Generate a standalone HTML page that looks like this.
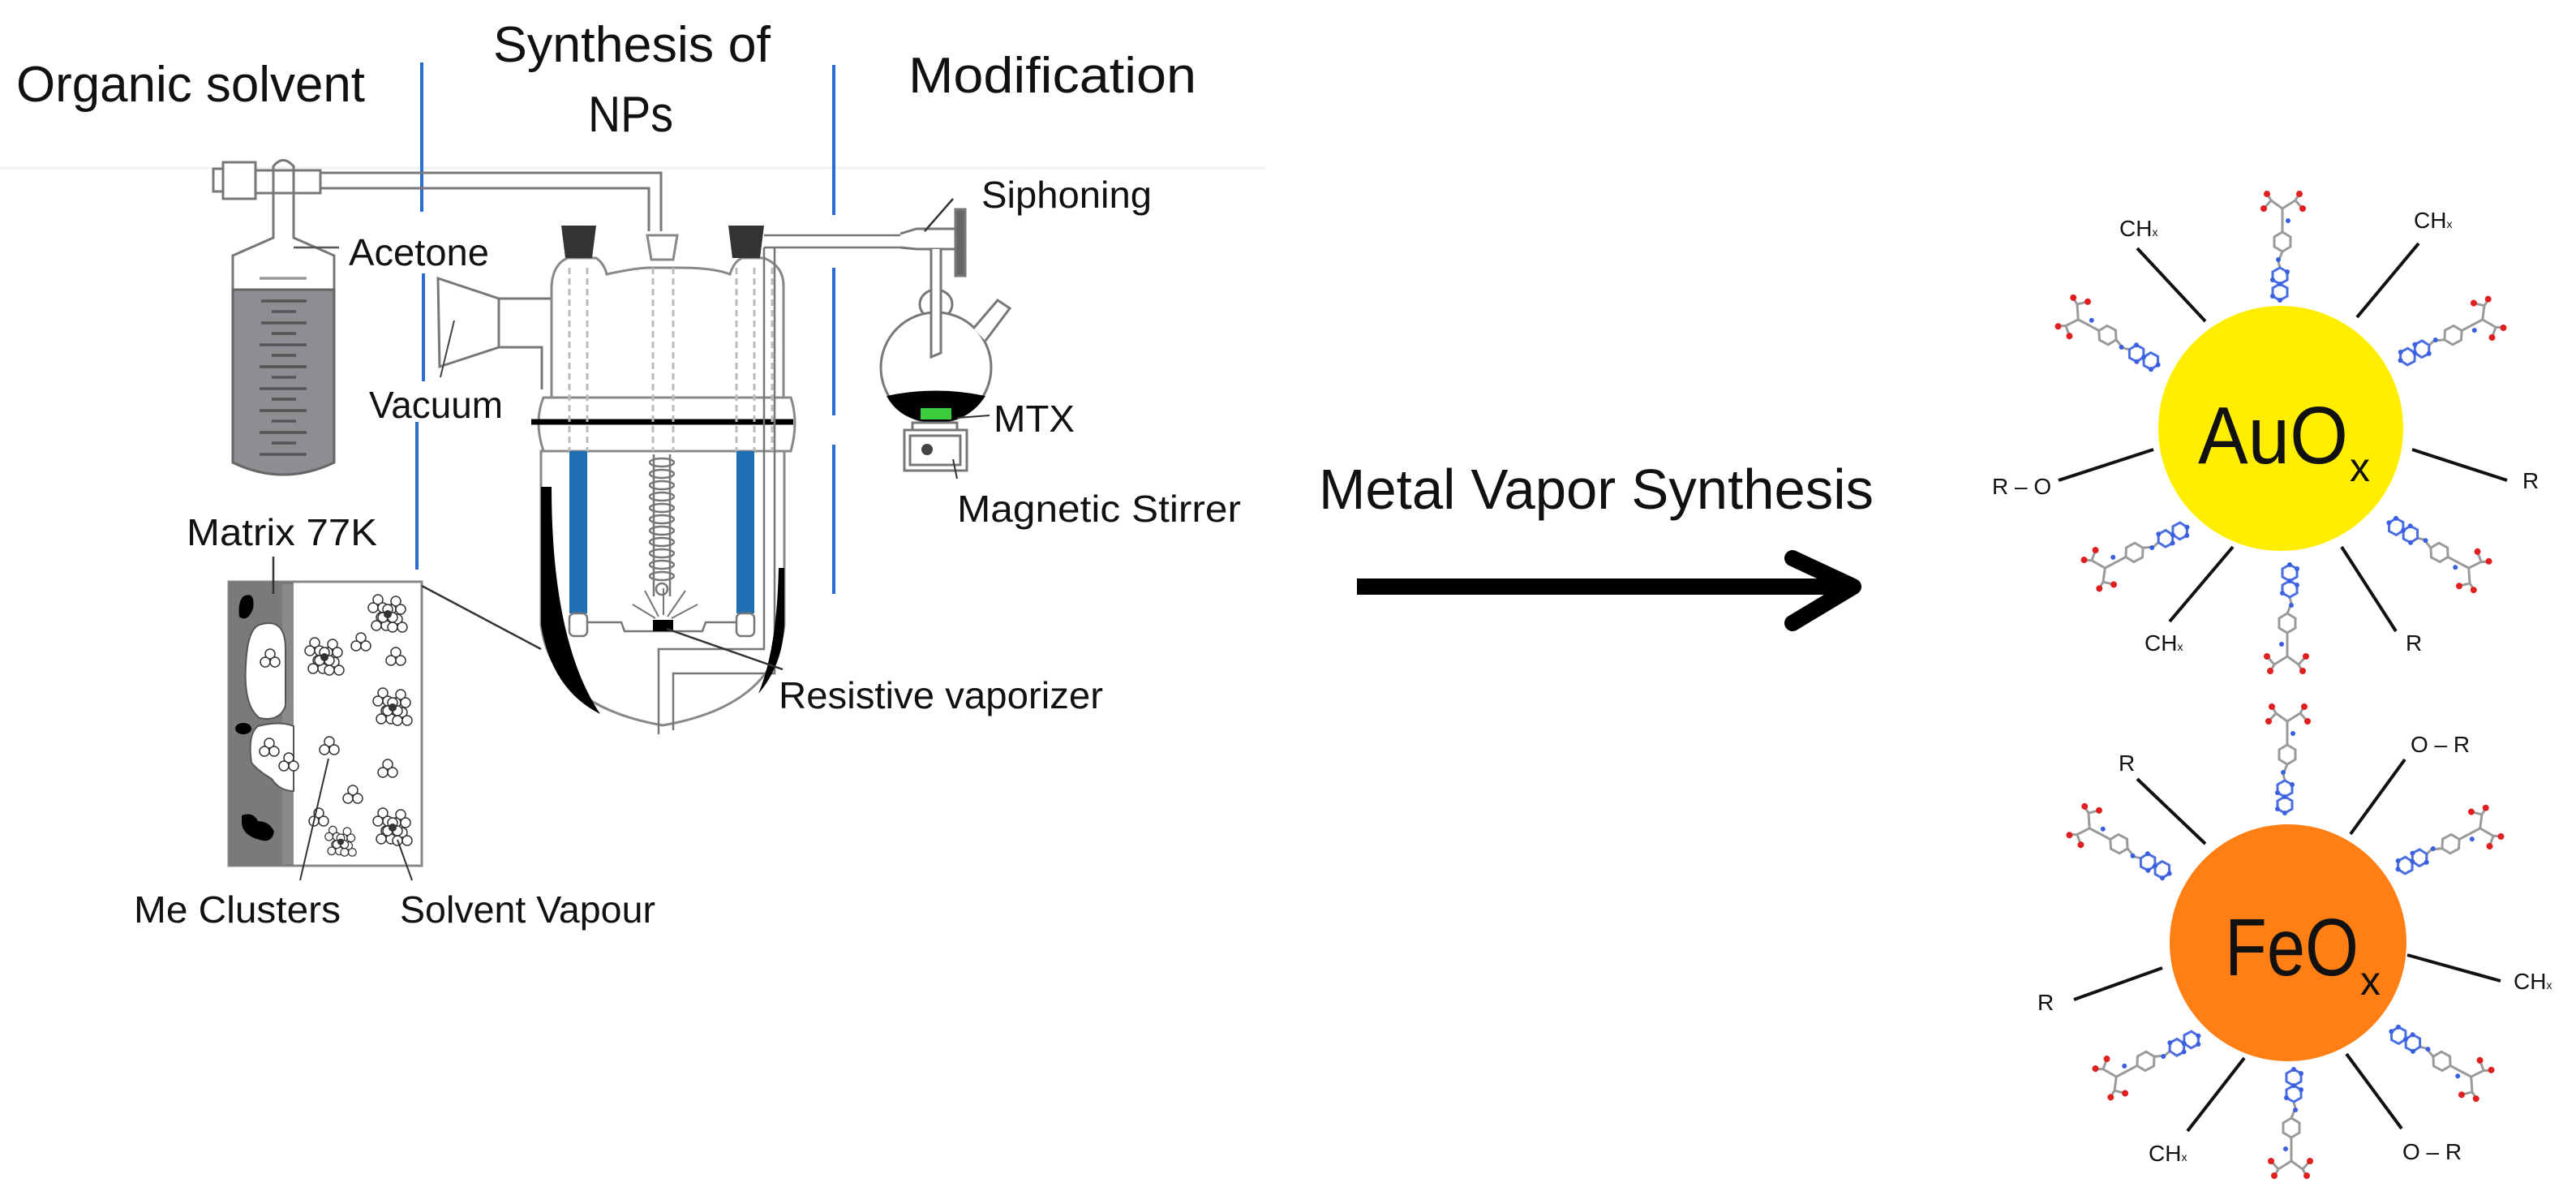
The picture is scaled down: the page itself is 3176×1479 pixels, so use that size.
<!DOCTYPE html>
<html><head><meta charset="utf-8"><style>
html,body{margin:0;padding:0;background:#fff;}
svg{display:block;}
text{font-family:"Liberation Sans",sans-serif;fill:#111;}
</style></head><body>
<svg width="3176" height="1479" viewBox="0 0 3176 1479" xmlns="http://www.w3.org/2000/svg">
<defs>
<g id="mol" stroke-linecap="round">
  <g stroke="#9a9a9a" stroke-width="3" fill="none">
    <path d="M-45,0 L-55,-16 M-55,-16 L-62,-20 M-55,-16 L-46,-24 M-45,0 L-55,14 M-55,14 L-62,18 M-55,14 L-46,22 M-45,0 L-28,0 M-28,0 L-16,0"/>
    <polygon points="-16,0 -10,-10 2,-10 8,0 2,10 -10,10"/>
    <path d="M8,0 L20,5 L28,3"/>
  </g>
  <g stroke="#4a6ee0" stroke-width="3" fill="none">
    <polygon points="28,3 33,-6 43,-6 48,3 43,12 33,12"/>
    <polygon points="48,3 53,-6 63,-6 68,3 63,12 53,12"/>
  </g>
  <g fill="#e02020">
    <circle cx="-63" cy="-21" r="4"/><circle cx="-45" cy="-25" r="4"/>
    <circle cx="-63" cy="19" r="4"/><circle cx="-45" cy="23" r="4"/>
  </g>
  <g fill="#3a5fe0">
    <circle cx="-30" cy="-7" r="3"/><circle cx="18" cy="5" r="3"/>
    <circle cx="33" cy="-6" r="3"/><circle cx="48" cy="3" r="3"/><circle cx="63" cy="12" r="3"/><circle cx="68" cy="3" r="3"/><circle cx="43" cy="12" r="3"/>
  </g>
</g>
<g id="tri" fill="#fff" stroke="#333" stroke-width="1.5">
  <circle cx="0" cy="-6" r="6"/><circle cx="-6" cy="4" r="6"/><circle cx="6" cy="4" r="6"/>
</g>
<g id="clu">
  <use href="#tri" x="-12" y="-12"/><use href="#tri" x="10" y="-10"/><use href="#tri" x="-8" y="10"/><use href="#tri" x="12" y="12"/><use href="#tri" x="0" y="0"/>
  <circle cx="0" cy="0" r="5" fill="#333"/>
</g>
</defs>

<!-- faint separator -->
<line x1="0" y1="207" x2="1560" y2="207" stroke="#f0f0f0" stroke-width="3"/>

<!-- headers -->
<text x="20" y="125" font-size="62" textLength="430" lengthAdjust="spacingAndGlyphs">Organic solvent</text>
<text x="608" y="76" font-size="62" textLength="342" lengthAdjust="spacingAndGlyphs">Synthesis of</text>
<text x="725" y="162" font-size="62" textLength="105" lengthAdjust="spacingAndGlyphs">NPs</text>
<text x="1120" y="114" font-size="62" textLength="355" lengthAdjust="spacingAndGlyphs">Modification</text>

<!-- blue dividers -->
<g stroke="#2a6fd0" stroke-width="4">
  <line x1="520" y1="77" x2="520" y2="261"/><line x1="522" y1="337" x2="522" y2="470"/><line x1="514" y1="520" x2="514" y2="702"/>
  <line x1="1028" y1="80" x2="1028" y2="265"/><line x1="1028" y1="330" x2="1028" y2="512"/><line x1="1028" y1="548" x2="1028" y2="732"/>
</g>

<!-- top pipe -->
<g fill="none" stroke="#777" stroke-width="3">
  <path d="M395,213 L815,213 L815,285 M395,232 L800,232 L800,285"/>
  <rect x="263" y="208" width="30" height="28" fill="#fff"/>
  <rect x="275" y="200" width="40" height="45" fill="#fff"/>
  <rect x="315" y="210" width="80" height="28" fill="#fff"/>
  <path d="M337,280 L337,205 Q349,190 362,205 L362,280"/>
</g>
<!-- bottle -->
<path d="M337,280 L337,293 L287,315 L287,570 Q349,600 412,570 L412,315 L362,293 L362,280" fill="#fff" stroke="#777" stroke-width="3"/>
<path d="M287,357 L412,357 L412,570 Q349,600 287,570 Z" fill="#8e8e92" stroke="#666" stroke-width="3"/>
<g stroke="#555" stroke-width="3.5">
  <line x1="320" y1="343" x2="378" y2="343" stroke="#999"/>
  <line x1="322" y1="371" x2="378" y2="371"/><line x1="335" y1="384" x2="365" y2="384"/>
  <line x1="322" y1="398" x2="378" y2="398"/><line x1="335" y1="411" x2="365" y2="411"/>
  <line x1="320" y1="425" x2="378" y2="425"/><line x1="335" y1="438" x2="365" y2="438"/>
  <line x1="320" y1="452" x2="378" y2="452"/><line x1="335" y1="465" x2="365" y2="465"/>
  <line x1="320" y1="479" x2="378" y2="479"/><line x1="335" y1="492" x2="365" y2="492"/>
  <line x1="320" y1="506" x2="378" y2="506"/><line x1="335" y1="519" x2="365" y2="519"/>
  <line x1="320" y1="533" x2="378" y2="533"/><line x1="335" y1="546" x2="365" y2="546"/>
  <line x1="320" y1="560" x2="378" y2="560"/>
</g>
<line x1="362" y1="305" x2="418" y2="305" stroke="#555" stroke-width="2.5"/>
<text x="430" y="327" font-size="46" textLength="173" lengthAdjust="spacingAndGlyphs">Acetone</text>
<text x="455" y="515" font-size="46" textLength="165" lengthAdjust="spacingAndGlyphs">Vacuum</text>

<!-- funnel -->
<g fill="#fff" stroke="#777" stroke-width="3">
  <polygon points="540,343 615,368 615,428 542,452"/>
  <path d="M615,368 L680,368 M615,428 L668,428 L668,480" fill="none"/>
</g>
<line x1="560" y1="395" x2="543" y2="465" stroke="#444" stroke-width="2"/>

<!-- reactor -->
<g fill="#fff" stroke="#888" stroke-width="3">
  <path d="M680,490 L680,352 Q682,325 700,318 L735,318 Q745,325 748,338 Q785,330 800,330 L838,330 Q880,330 900,338 Q905,322 915,318 L942,318 Q966,328 966,352 L966,490 Z"/>
  <path d="M670,490 L975,490 Q985,520 975,556 L670,556 Q658,520 670,490 Z"/>
  <path d="M667,556 L667,770 Q680,870 817,894 Q955,870 967,770 L967,556 Z"/>
</g>
<line x1="655" y1="520" x2="978" y2="520" stroke="#000" stroke-width="7"/>
<g stroke="#bbb" stroke-width="3" stroke-dasharray="8,5">
  <line x1="702" y1="330" x2="702" y2="556"/><line x1="724" y1="330" x2="724" y2="556"/>
  <line x1="805" y1="330" x2="805" y2="556"/><line x1="830" y1="330" x2="830" y2="556"/>
  <line x1="908" y1="330" x2="908" y2="556"/><line x1="930" y1="330" x2="930" y2="556"/>
  <line x1="952" y1="330" x2="952" y2="556"/>
</g>
<polygon points="692,278 735,278 730,318 697,318" fill="#333"/>
<polygon points="898,278 942,278 937,318 903,318" fill="#333"/>
<polygon points="798,290 835,290 830,320 803,320" fill="#fff" stroke="#888" stroke-width="3"/>
<!-- blue bars -->
<rect x="702" y="556" width="22" height="200" fill="#1f6fb4"/>
<rect x="908" y="556" width="22" height="200" fill="#1f6fb4"/>
<g fill="#fff" stroke="#777" stroke-width="2.5">
  <rect x="702" y="756" width="22" height="28" rx="6"/><rect x="908" y="756" width="22" height="28" rx="6"/>
  <path d="M724,767 L766,767 L770,778 L866,778 L870,767 L908,767" fill="none"/>
</g>
<rect x="805" y="764" width="25" height="14" fill="#000"/>
<g stroke="#777" stroke-width="2">
  <line x1="812" y1="760" x2="795" y2="728"/><line x1="818" y1="758" x2="818" y2="725"/><line x1="823" y1="760" x2="845" y2="728"/><line x1="808" y1="762" x2="780" y2="745"/><line x1="828" y1="762" x2="860" y2="745"/>
</g>
<!-- coil -->
<g fill="none" stroke="#777" stroke-width="2.5">
  <line x1="806" y1="560" x2="806" y2="735"/><line x1="826" y1="560" x2="826" y2="735"/>
  <ellipse cx="816" cy="570" rx="15" ry="5"/><ellipse cx="816" cy="584" rx="15" ry="5"/><ellipse cx="816" cy="598" rx="15" ry="5"/>
  <ellipse cx="816" cy="612" rx="15" ry="5"/><ellipse cx="816" cy="626" rx="15" ry="5"/><ellipse cx="816" cy="640" rx="15" ry="5"/>
  <ellipse cx="816" cy="654" rx="15" ry="5"/><ellipse cx="816" cy="668" rx="15" ry="5"/><ellipse cx="816" cy="682" rx="15" ry="5"/>
  <ellipse cx="816" cy="696" rx="15" ry="5"/><ellipse cx="816" cy="710" rx="15" ry="5"/><circle cx="816" cy="726" r="7"/>
</g>
<!-- internal pipe -->
<g fill="none" stroke="#777" stroke-width="2.5">
  <path d="M955,305 L955,830 L830,830 L830,900"/>
  <path d="M942,305 L942,800 L812,800 L812,905"/>
  <path d="M942,305 L1110,305 M942,290 L1110,290"/>
</g>
<!-- black crescents -->
<path d="M667,600 L680,600 Q680,790 740,880 Q680,850 667,770 Z" fill="#000"/>
<path d="M967,700 L960,700 Q958,800 935,855 Q965,820 967,770 Z" fill="#000"/>
<!-- vaporizer leader -->
<line x1="822" y1="775" x2="965" y2="825" stroke="#333" stroke-width="2.5"/>
<text x="960" y="873" font-size="46" textLength="400" lengthAdjust="spacingAndGlyphs">Resistive vaporizer</text>

<!-- siphon / flask -->
<g fill="#fff" stroke="#777" stroke-width="3">
  <path d="M1110,288 L1130,282 L1178,282 L1178,307 L1130,307 L1110,305"/>
  <rect x="1178" y="258" width="12" height="82" fill="#666"/>
  <path d="M1148,307 L1148,440 L1160,435 L1160,307" />
  <ellipse cx="1154" cy="375" rx="20" ry="18"/>
  <circle cx="1154" cy="453" r="68"/>
  <path d="M1200,405 L1230,370 L1245,380 L1215,420" />
</g>
<path d="M1148,307 L1148,440 L1160,435 L1160,307" fill="#fff" stroke="#777" stroke-width="3"/>
<line x1="1140" y1="285" x2="1175" y2="245" stroke="#333" stroke-width="2.5"/>
<path d="M1093,488 Q1154,475 1215,488 Q1195,520 1154,521 Q1110,520 1093,488 Z" fill="#000"/>
<rect x="1135" y="503" width="38" height="14" fill="#3ccc3c"/>
<g fill="#fff" stroke="#777" stroke-width="3">
  <rect x="1125" y="521" width="55" height="10"/>
  <rect x="1115" y="530" width="77" height="50"/>
  <rect x="1122" y="537" width="62" height="36"/>
</g>
<circle cx="1143" cy="554" r="7" fill="#444"/>
<line x1="1175" y1="566" x2="1180" y2="590" stroke="#333" stroke-width="2"/>
<line x1="1180" y1="515" x2="1220" y2="512" stroke="#333" stroke-width="2"/>
<text x="1210" y="256" font-size="46" textLength="210" lengthAdjust="spacingAndGlyphs">Siphoning</text>
<text x="1225" y="532" font-size="46" textLength="100" lengthAdjust="spacingAndGlyphs">MTX</text>
<text x="1180" y="643" font-size="46" textLength="350" lengthAdjust="spacingAndGlyphs">Magnetic Stirrer</text>
<text x="230" y="672" font-size="46" textLength="235" lengthAdjust="spacingAndGlyphs">Matrix 77K</text>

<!-- matrix box -->
<rect x="282" y="717" width="238" height="350" fill="#fff" stroke="#888" stroke-width="3"/>
<rect x="282" y="717" width="80" height="350" fill="#7a7a7a"/>
<path d="M348,720 L362,720 L362,1065 L348,1065 Z" fill="#8a8a8a"/>
<path d="M320,770 Q352,760 352,800 L352,870 Q345,890 320,885 Q300,870 303,820 Q305,775 320,770 Z" fill="#fff" stroke="#555" stroke-width="2"/>
<path d="M318,895 Q345,888 362,895 L362,975 Q345,975 335,960 Q318,950 310,940 Q305,905 318,895 Z" fill="#fff" stroke="#555" stroke-width="2"/>
<path d="M300,735 Q315,728 312,750 Q305,768 295,760 Q293,742 300,735 Z" fill="#000"/>
<ellipse cx="300" cy="898" rx="10" ry="7" fill="#000"/>
<path d="M298,1005 Q312,1000 318,1012 Q332,1012 338,1025 Q335,1040 320,1035 Q300,1030 298,1015 Z" fill="#000"/>
<use href="#tri" x="333" y="812"/><use href="#tri" x="332" y="922"/><use href="#tri" x="356" y="940"/>
<use href="#tri" x="406" y="920"/><use href="#tri" x="488" y="810"/><use href="#tri" x="478" y="948"/><use href="#tri" x="435" y="980"/><use href="#tri" x="393" y="1008"/>
<use href="#clu" x="478" y="757"/><use href="#clu" x="400" y="810"/><use href="#clu" x="484" y="872"/><use href="#clu" x="484" y="1020"/><use href="#clu" x="420" y="1042" transform="translate(84,204) scale(0.8)"/>
<use href="#tri" x="445" y="792"/>
<line x1="337" y1="686" x2="337" y2="732" stroke="#333" stroke-width="2.5"/>
<line x1="520" y1="722" x2="667" y2="800" stroke="#333" stroke-width="2.5"/>
<line x1="370" y1="1085" x2="405" y2="935" stroke="#333" stroke-width="2"/>
<line x1="508" y1="1085" x2="490" y2="1035" stroke="#333" stroke-width="2"/>
<text x="165" y="1137" font-size="46" textLength="255" lengthAdjust="spacingAndGlyphs">Me Clusters</text>
<text x="493" y="1137" font-size="46" textLength="315" lengthAdjust="spacingAndGlyphs">Solvent Vapour</text>

<!-- main arrow -->
<text x="1626" y="627" font-size="70" textLength="684" lengthAdjust="spacingAndGlyphs">Metal Vapor Synthesis</text>
<line x1="1673" y1="723" x2="2280" y2="723" stroke="#000" stroke-width="20"/>
<polyline points="2210,688 2285,723 2210,768" fill="none" stroke="#000" stroke-width="20" stroke-linejoin="round" stroke-linecap="round"/>

<!-- AuOx -->
<circle cx="2812" cy="528" r="151" fill="#ffee00"/>
<text x="2710" y="571" font-size="100" textLength="185" lengthAdjust="spacingAndGlyphs">AuO</text>
<text x="2897" y="593" font-size="50">x</text>
<g stroke="#111" stroke-width="4">
  <line x1="2635" y1="306" x2="2719" y2="396"/><line x1="2906" y1="391" x2="2982" y2="300"/>
  <line x1="2538" y1="592" x2="2655" y2="554"/><line x1="2974" y1="554" x2="3091" y2="592"/>
  <line x1="2675" y1="766" x2="2753" y2="674"/><line x1="2887" y1="674" x2="2954" y2="778"/>
</g>
<g font-size="28">
  <text x="2613" y="291">CH<tspan font-size="14">x</tspan></text>
  <text x="2976" y="281">CH<tspan font-size="14">x</tspan></text>
  <text x="2456" y="609">R – O</text>
  <text x="3110" y="602">R</text>
  <text x="2644" y="802">CH<tspan font-size="14">x</tspan></text>
  <text x="2966" y="802">R</text>
</g>
<use href="#mol" transform="translate(2814,302) rotate(90)"/>
<use href="#mol" transform="translate(2602,415) rotate(28)"/>
<use href="#mol" transform="translate(3021,415) rotate(152)"/>
<use href="#mol" transform="translate(2635,679) rotate(-28)"/>
<use href="#mol" transform="translate(3004,679) rotate(-152)"/>
<use href="#mol" transform="translate(2820,764) rotate(-90)"/>

<!-- FeOx -->
<circle cx="2821" cy="1162" r="146" fill="#ff7f14"/>
<text x="2743" y="1202" font-size="100" textLength="165" lengthAdjust="spacingAndGlyphs">FeO</text>
<text x="2910" y="1226" font-size="50">x</text>
<g stroke="#111" stroke-width="4">
  <line x1="2635" y1="960" x2="2719" y2="1040"/><line x1="2898" y1="1028" x2="2965" y2="936"/>
  <line x1="2557" y1="1232" x2="2666" y2="1193"/><line x1="2968" y1="1177" x2="3083" y2="1209"/>
  <line x1="2697" y1="1394" x2="2767" y2="1304"/><line x1="2893" y1="1299" x2="2961" y2="1391"/>
</g>
<g font-size="28">
  <text x="2612" y="950">R</text>
  <text x="2972" y="927">O – R</text>
  <text x="2512" y="1245">R</text>
  <text x="3099" y="1219">CH<tspan font-size="14">x</tspan></text>
  <text x="2649" y="1431">CH<tspan font-size="14">x</tspan></text>
  <text x="2962" y="1429">O – R</text>
</g>
<use href="#mol" transform="translate(2820,934) rotate(90)"/>
<use href="#mol" transform="translate(2616,1042) rotate(28)"/>
<use href="#mol" transform="translate(3018,1042) rotate(152)"/>
<use href="#mol" transform="translate(2649,1306) rotate(-28)"/>
<use href="#mol" transform="translate(3007,1306) rotate(-152)"/>
<use href="#mol" transform="translate(2825,1386) rotate(-90)"/>
</svg>
</body></html>
